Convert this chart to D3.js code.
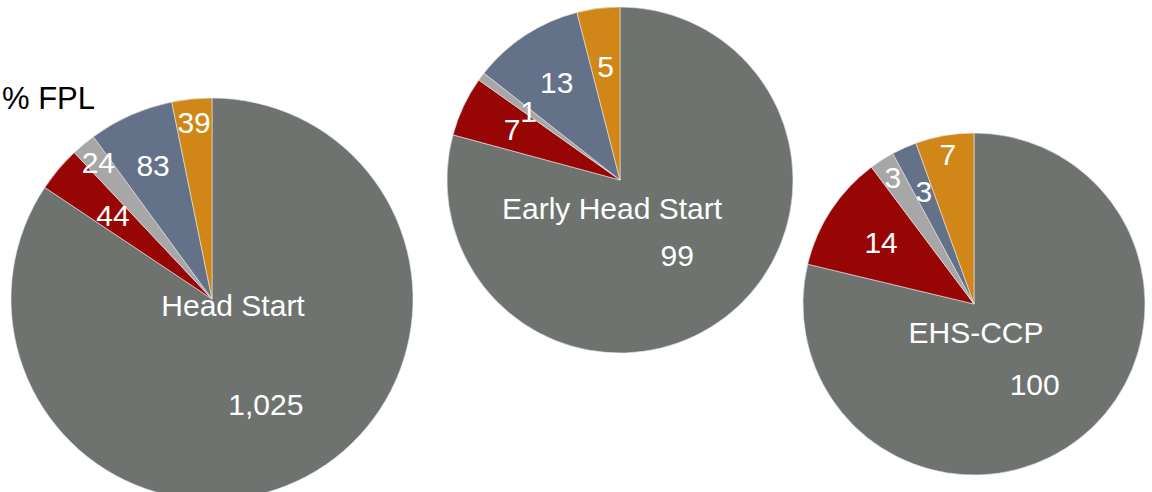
<!DOCTYPE html>
<html>
<head>
<meta charset="utf-8">
<script src="https://cdn.jsdelivr.net/npm/d3@7"></script>
<style>
  body { margin: 0; background: #fff; }
  svg { display: block; }
  text { font-family: "Liberation Sans", Arial, Helvetica, sans-serif; }
</style>
</head>
<body>
<div id="chart"></div>
<script>
// ********** DATA **********
const categories = ['main', 'red', 'lightgray', 'blue', 'orange'];
const programs = ['Head Start', 'Early Head Start', 'EHS-CCP'];
const headStart = [1025, 44, 24, 83, 39];
const earlyHeadStart = [99, 7, 1, 13, 5];
const ehsCcp = [100, 14, 3, 3, 7];
const legendText = '% FPL';

// ********** LAYOUT **********
const width = 1152, height = 492;
const pies = [
  { cx: 212, cy: 299, r: 201, title: [21, 17], bigAngle: 153, labelR: [0.59, 0.645, 0.885, 0.725, 0.885] },
  { cx: 620, cy: 180, r: 173, title: [-8, 39], bigAngle: 143, labelR: [0.55, 0.69, 0.66, 0.67, 0.66] },
  { cx: 974, cy: 304, r: 171, title: [2, 39], bigAngle: 143, labelR: [0.59, 0.65, 0.88, 0.72, 0.89] }
];
const seriesList = [headStart, earlyHeadStart, ehsCcp];

const colors = d3.scaleOrdinal()
  .domain(categories)
  .range(['#6e7370', '#980505', '#a7a7a7', '#637289', '#d08718']);

const fmt = d3.format(',');

const svg = d3.select('#chart')
  .append('svg')
  .attr('width', width)
  .attr('height', height);

const pie = d3.pie()
  .sort(null)
  .value(d => d.value);

seriesList.forEach((series, p) => {
  const cfg = pies[p];
  const data = series.map((v, i) => ({ id: categories[i], value: v, idx: i }));
  const arcs = pie(data);

  const arc = d3.arc()
    .innerRadius(0)
    .outerRadius(cfg.r);

  const g = svg.append('g')
    .attr('class', 'pie')
    .attr('transform', `translate(${cfg.cx}, ${cfg.cy})`);

  g.selectAll('path.slice')
    .data(arcs)
    .enter()
    .append('path')
    .attr('class', 'slice')
    .attr('d', arc)
    .attr('fill', d => colors(d.data.id))
    .attr('stroke', '#e6e6e6')
    .attr('stroke-width', 0.6);

  // value labels
  g.selectAll('text.value')
    .data(arcs)
    .enter()
    .append('text')
    .attr('class', 'value')
    .attr('text-anchor', 'middle')
    .attr('dominant-baseline', 'central')
    .attr('fill', '#fff')
    .attr('font-size', 30)
    .attr('transform', d => {
      const a = d.index === 0 ? cfg.bigAngle * Math.PI / 180 : (d.startAngle + d.endAngle) / 2;
      const rr = cfg.labelR[d.index] * cfg.r;
      return `translate(${rr * Math.sin(a)}, ${-rr * Math.cos(a)})`;
    })
    .text(d => fmt(d.data.value));

  // program name
  g.append('text')
    .attr('class', 'title')
    .attr('text-anchor', 'middle')
    .attr('fill', '#fff')
    .attr('font-size', 30)
    .attr('x', cfg.title[0])
    .attr('y', cfg.title[1])
    .text(programs[p]);
});

svg.append('text')
  .attr('x', 2)
  .attr('y', 109)
  .attr('font-size', 31)
  .attr('fill', '#000')
  .text(legendText);
</script>
</body>
</html>
